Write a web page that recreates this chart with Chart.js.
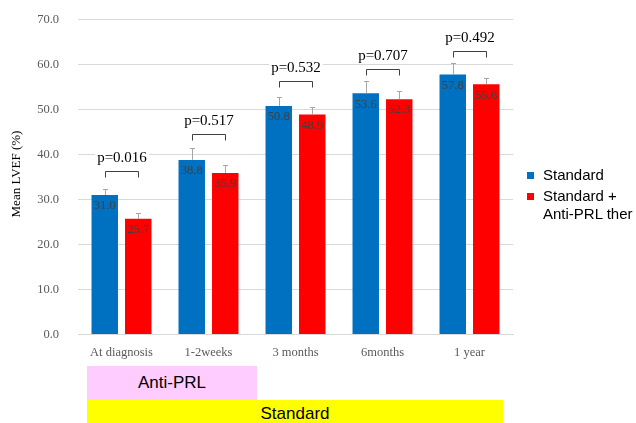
<!DOCTYPE html>
<html>
<head>
<meta charset="utf-8">
<script src="https://cdn.jsdelivr.net/npm/chart.js@4.4.0/dist/chart.umd.min.js"></script>
<style>
  html, body { margin: 0; padding: 0; background: #fff; }
  #wrap { position: relative; width: 636px; height: 423px; overflow: hidden; }
  #chart { position: absolute; left: 0; top: 0; }
  .ytitle {
    position: absolute; left: -44px; top: 166px; width: 120px; height: 16px;
    line-height: 16px; text-align: center; transform: rotate(-90deg);
    font: 13px 'Liberation Serif', 'Times New Roman', serif; color: #000;
  }
  #legend { position: absolute; left: 527px; top: 166px; font: 15px 'Liberation Sans', Arial, sans-serif; color: #000; }
  .lg-item { display: flex; align-items: flex-start; margin-bottom: 3px; white-space: nowrap; }
  .lg-sw { width: 7px; height: 7px; margin-top: 6px; flex: none; }
  .lg-txt { margin-left: 9px; line-height: 18px; }
  .band { position: absolute; font: 17px 'Liberation Sans', Arial, sans-serif; color: #000; text-align: center; }
</style>
</head>
<body>
<div id="wrap">
  <canvas id="chart" width="636" height="423"></canvas>
  <div class="ytitle">Mean LVEF (%)</div>
  <div id="legend"></div>
  <div class="band" style="left:87px;top:366px;width:170px;height:34px;line-height:34px;background:#ffccff;">Anti-PRL</div>
  <div class="band" style="left:87px;top:400px;width:416px;height:30px;line-height:28px;background:#ffff00;">Standard</div>
</div>
<script>
const timepoints = ['At diagnosis', '1-2weeks', '3 months', '6months', '1 year'];
const standardMean = [31.0, 38.8, 50.8, 53.6, 57.8];
const combinedMean = [25.7, 35.9, 48.9, 52.3, 55.6];
const standardErr = [1.3, 2.6, 2.0, 2.7, 2.5];
const combinedErr = [1.3, 1.7, 1.7, 1.7, 1.3];
const pValues = ['p=0.016', 'p=0.517', 'p=0.532', 'p=0.707', 'p=0.492'];
const bracketLevel = [36.3, 44.5, 56.4, 58.9, 63.1];
const seriesNames = [['Standard'], ['Standard +', 'Anti-PRL ther']];
const seriesColors = ['#0070c0', '#ff0000'];

const SERIF = "'Liberation Serif', 'Times New Roman', serif";

// error bars, value labels and p-value brackets
const annotations = {
  id: 'annotations',
  afterDatasetsDraw(chart) {
    const ctx = chart.ctx;
    const y = chart.scales.y;
    ctx.save();
    chart.data.datasets.forEach((ds, di) => {
      const meta = chart.getDatasetMeta(di);
      meta.data.forEach((bar, i) => {
        const x = Math.round(bar.x) + 0.5;
        const top = Math.round(y.getPixelForValue(ds.data[i] + ds.errors[i])) + 0.5;
        ctx.strokeStyle = '#a6a6a6';
        ctx.lineWidth = 1;
        ctx.beginPath();
        ctx.moveTo(x, bar.y);
        ctx.lineTo(x, top);
        ctx.moveTo(x - 2.5, top);
        ctx.lineTo(x + 2.5, top);
        ctx.stroke();

        ctx.fillStyle = '#404040';
        ctx.font = '12.5px ' + SERIF;
        ctx.textAlign = 'center';
        ctx.textBaseline = 'middle';
        ctx.fillText(ds.data[i].toFixed(1), bar.x, bar.y + 11);
      });
    });

    const m0 = chart.getDatasetMeta(0), m1 = chart.getDatasetMeta(1);
    pValues.forEach((p, i) => {
      const x1 = Math.round(m0.data[i].x) + 0.5;
      const x2 = Math.round(m1.data[i].x) + 0.5;
      const yt = Math.round(y.getPixelForValue(bracketLevel[i])) + 0.5;
      ctx.strokeStyle = '#404040';
      ctx.lineWidth = 1;
      ctx.beginPath();
      ctx.moveTo(x1, yt + 6);
      ctx.lineTo(x1, yt);
      ctx.lineTo(x2, yt);
      ctx.lineTo(x2, yt + 6);
      ctx.stroke();

      ctx.font = '15px ' + SERIF;
      const cx = (x1 + x2) / 2, cy = yt - 13.5;
      const w = ctx.measureText(p).width;
      ctx.fillStyle = '#fff';
      ctx.fillRect(cx - w / 2 - 2, cy - 8, w + 4, 16);
      ctx.fillStyle = '#000';
      ctx.textAlign = 'center';
      ctx.textBaseline = 'middle';
      ctx.fillText(p, cx, cy);
    });
    ctx.restore();
  }
};

new Chart(document.getElementById('chart'), {
  type: 'bar',
  data: {
    labels: timepoints,
    datasets: [
      { label: seriesNames[0].join(' '), data: standardMean, errors: standardErr, backgroundColor: seriesColors[0] },
      { label: seriesNames[1].join(' '), data: combinedMean, errors: combinedErr, backgroundColor: seriesColors[1] }
    ]
  },
  options: {
    responsive: false,
    animation: false,
    events: [],
    categoryPercentage: 0.77,
    barPercentage: 0.79,
    layout: { padding: { top: 19.5, right: 123, bottom: 58.5, left: 0 } },
    plugins: { legend: { display: false }, tooltip: { enabled: false } },
    scales: {
      x: {
        grid: { display: false },
        border: { color: '#d9d9d9' },
        ticks: { color: '#595959', font: { family: SERIF, size: 12.5 }, padding: 3, maxRotation: 0 },
        afterFit(s) { s.height = 30; s.paddingLeft = 0; s.paddingRight = 0; }
      },
      y: {
        min: 0, max: 70,
        grid: { color: '#d9d9d9', drawTicks: false },
        border: { display: false },
        ticks: { stepSize: 10, color: '#595959', font: { family: SERIF, size: 12.5 }, padding: 19,
                 callback: v => v.toFixed(1) },
        afterFit(s) { s.width = 78; s.paddingTop = 0; s.paddingBottom = 0; }
      }
    }
  },
  plugins: [annotations]
});

// legend
const legend = document.getElementById('legend');
seriesNames.forEach((lines, i) => {
  const item = document.createElement('div');
  item.className = 'lg-item';
  item.innerHTML = `<div class="lg-sw" style="background:${seriesColors[i]}"></div><div class="lg-txt">${lines.join('<br>')}</div>`;
  legend.appendChild(item);
});
</script>
</body>
</html>
